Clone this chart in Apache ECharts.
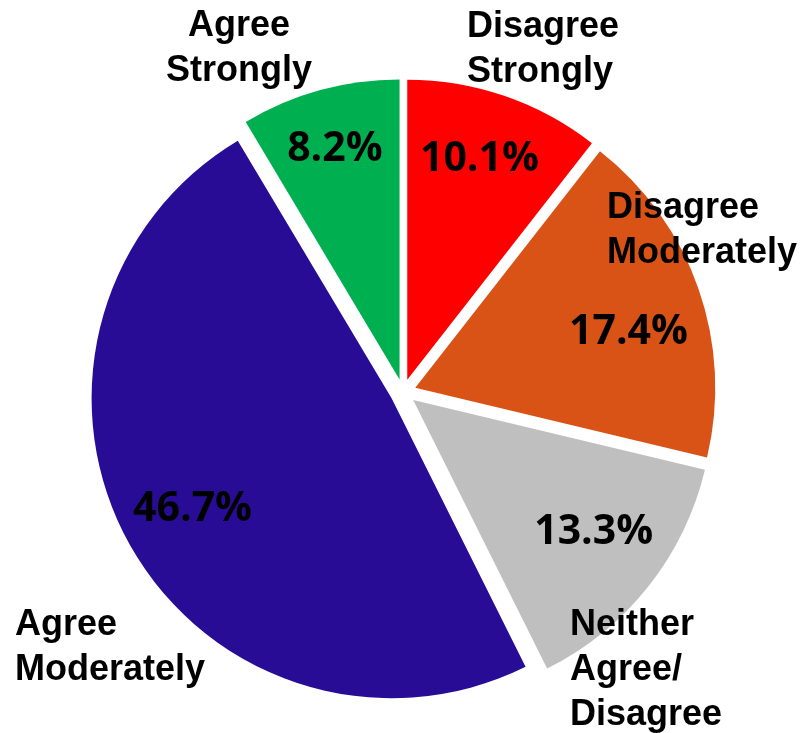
<!DOCTYPE html>
<html>
<head>
<meta charset="utf-8">
<script src="https://cdn.jsdelivr.net/npm/echarts@6/dist/echarts.min.js"></script>
<style>
html,body{margin:0;padding:0;background:#fff;}
#chart{width:803px;height:733px;}
</style>
</head>
<body>
<div id="chart"></div>
<script>
// Data (clockwise from 12 o'clock)
var categories = ['Disagree\nStrongly', 'Disagree\nModerately', 'Neither\nAgree/\nDisagree', 'Agree\nModerately', 'Agree\nStrongly'];
var values = [10.1, 17.4, 13.3, 46.7, 8.2];
var colors = ['#FF0000', '#D95316', '#BFBFBF', '#290C95', '#00B050'];

// Layout-only styling: where each category name sits, and nudges for the % labels
var nameAnchors = [
  {x: 467, y: 50, align: 'left'},
  {x: 607, y: 231, align: 'left'},
  {x: 570, y: 670, align: 'left'},
  {x: 15, y: 648, align: 'left'},
  {x: 239, y: 49, align: 'center'}
];
var pctNudge = [
  {dx: -2, dy: -5},
  {dx: -2, dy: 20},
  {dx: 2, dy: -10},
  {dx: 1, dy: 2},
  {dx: -4, dy: -10}
];

var chart = echarts.init(document.getElementById('chart'));

var pieData = categories.map(function (c, i) {
  return { name: c, value: values[i], selected: true, itemStyle: { color: colors[i] } };
});
var ringData = categories.map(function (c, i) {
  return { name: c, value: values[i], selected: true };
});

var CX = 403, CY = 392, R = 300, OFF = 13;

var nameFont = 'bold 36px "Liberation Sans", Arial, sans-serif';

chart.setOption({
  animation: false,
  backgroundColor: '#fff',
  graphic: categories.map(function (c, i) {
    var a = nameAnchors[i];
    return {
      type: 'text',
      silent: true,
      z: 100,
      zlevel: 0,
      style: {
        text: c,
        x: a.x,
        y: a.y,
        align: a.align,
        verticalAlign: 'middle',
        font: nameFont,
        lineHeight: 45,
        fill: '#000'
      }
    };
  }),
  series: [
    {
      type: 'pie',
      z: 1,
      center: [CX, CY],
      radius: [0, R],
      startAngle: 90,
      clockwise: true,
      selectedMode: 'multiple',
      selectedOffset: OFF,
      silent: true,
      emphasis: { disabled: true },
      data: pieData,
      label: { show: false },
      labelLine: { show: false }
    },
    {
      type: 'pie',
      z: 2,
      center: [CX, CY],
      radius: [R / 2, R],
      startAngle: 90,
      clockwise: true,
      selectedMode: 'multiple',
      selectedOffset: OFF,
      silent: true,
      emphasis: { disabled: true },
      itemStyle: { color: 'rgba(0,0,0,0)' },
      data: ringData,
      label: {
        show: true,
        position: 'inside',
        formatter: function (p) { return p.value.toFixed(1) + '%'; },
        fontFamily: '"Open Sans", sans-serif',
        fontWeight: 'bold',
        fontSize: 41,
        color: '#000'
      },
      labelLine: { show: false },
      labelLayout: function (p) {
        var n = pctNudge[p.dataIndex];
        return { dx: n.dx, dy: n.dy };
      }
    }
  ]
});
</script>
</body>
</html>
